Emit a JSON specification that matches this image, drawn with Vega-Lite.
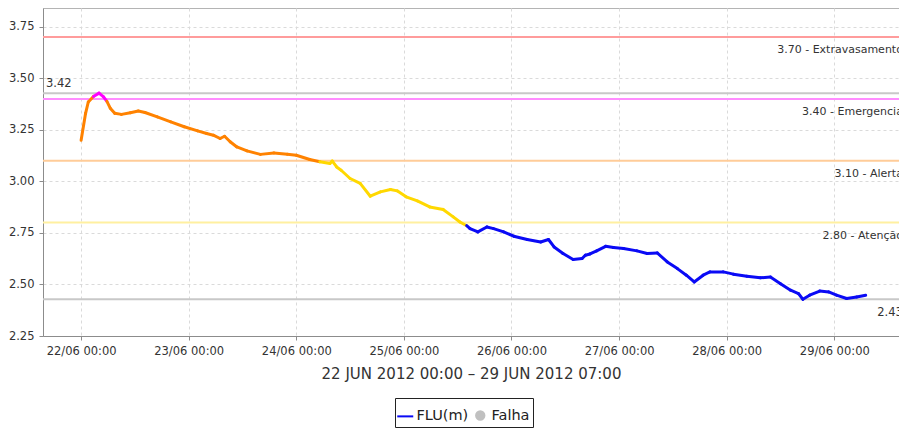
{
  "$schema": "https://vega.github.io/schema/vega-lite/v6.json",
  "autosize": "none",
  "width": 856,
  "height": 328,
  "padding": {"left": 43, "top": 8, "right": 0, "bottom": 92},
  "background": "white",
  "config": {
    "view": {"stroke": "#b4b4b4", "strokeWidth": 1},
    "font": "DejaVu Sans",
    "axis": {
      "labelFont": "DejaVu Sans",
      "titleFont": "DejaVu Sans",
      "labelFontSize": 11.5,
      "labelColor": "#333333",
      "titleColor": "#333333",
      "gridColor": "#dadada",
      "gridDash": [3, 3],
      "gridWidth": 1,
      "domainColor": "#8c8c8c",
      "tickColor": "#8c8c8c",
      "tickSize": 4
    },
    "legend": {
      "labelFont": "DejaVu Sans",
      "titleFont": "DejaVu Sans"
    }
  },
  "datasets": {
    "serie": [
      {"t": "2012-06-22T00:00", "v": 3.20},
      {"t": "2012-06-22T01:00", "v": 3.33},
      {"t": "2012-06-22T01:36", "v": 3.385},
      {"t": "2012-06-22T02:45", "v": 3.412},
      {"t": "2012-06-22T04:00", "v": 3.428},
      {"t": "2012-06-22T05:00", "v": 3.41},
      {"t": "2012-06-22T05:45", "v": 3.388},
      {"t": "2012-06-22T06:30", "v": 3.355},
      {"t": "2012-06-22T07:30", "v": 3.33},
      {"t": "2012-06-22T09:00", "v": 3.325},
      {"t": "2012-06-22T11:00", "v": 3.333},
      {"t": "2012-06-22T12:45", "v": 3.341},
      {"t": "2012-06-22T14:15", "v": 3.334},
      {"t": "2012-06-22T17:00", "v": 3.313},
      {"t": "2012-06-22T20:00", "v": 3.289},
      {"t": "2012-06-22T23:00", "v": 3.265},
      {"t": "2012-06-23T02:00", "v": 3.245},
      {"t": "2012-06-23T04:00", "v": 3.232},
      {"t": "2012-06-23T05:30", "v": 3.224},
      {"t": "2012-06-23T07:00", "v": 3.208},
      {"t": "2012-06-23T08:00", "v": 3.219},
      {"t": "2012-06-23T09:15", "v": 3.192},
      {"t": "2012-06-23T10:45", "v": 3.167},
      {"t": "2012-06-23T13:00", "v": 3.148},
      {"t": "2012-06-23T16:00", "v": 3.131},
      {"t": "2012-06-23T19:00", "v": 3.138},
      {"t": "2012-06-23T22:00", "v": 3.132},
      {"t": "2012-06-24T00:00", "v": 3.127},
      {"t": "2012-06-24T03:00", "v": 3.106},
      {"t": "2012-06-24T05:15", "v": 3.095},
      {"t": "2012-06-24T07:30", "v": 3.087},
      {"t": "2012-06-24T08:00", "v": 3.099},
      {"t": "2012-06-24T09:00", "v": 3.07},
      {"t": "2012-06-24T10:00", "v": 3.054},
      {"t": "2012-06-24T12:00", "v": 3.014},
      {"t": "2012-06-24T14:15", "v": 2.99},
      {"t": "2012-06-24T16:30", "v": 2.928},
      {"t": "2012-06-24T18:45", "v": 2.949},
      {"t": "2012-06-24T21:00", "v": 2.961},
      {"t": "2012-06-24T22:30", "v": 2.954},
      {"t": "2012-06-25T00:30", "v": 2.925},
      {"t": "2012-06-25T03:00", "v": 2.905},
      {"t": "2012-06-25T05:45", "v": 2.876},
      {"t": "2012-06-25T08:45", "v": 2.864},
      {"t": "2012-06-25T11:00", "v": 2.828},
      {"t": "2012-06-25T12:30", "v": 2.803},
      {"t": "2012-06-25T14:00", "v": 2.785},
      {"t": "2012-06-25T14:45", "v": 2.771},
      {"t": "2012-06-25T16:30", "v": 2.755},
      {"t": "2012-06-25T18:30", "v": 2.779},
      {"t": "2012-06-25T20:00", "v": 2.771},
      {"t": "2012-06-25T22:15", "v": 2.755},
      {"t": "2012-06-26T00:30", "v": 2.734},
      {"t": "2012-06-26T03:30", "v": 2.718},
      {"t": "2012-06-26T06:30", "v": 2.706},
      {"t": "2012-06-26T08:15", "v": 2.718},
      {"t": "2012-06-26T09:30", "v": 2.682},
      {"t": "2012-06-26T11:30", "v": 2.65},
      {"t": "2012-06-26T13:45", "v": 2.621},
      {"t": "2012-06-26T15:45", "v": 2.626},
      {"t": "2012-06-26T16:30", "v": 2.642},
      {"t": "2012-06-26T17:30", "v": 2.648},
      {"t": "2012-06-26T19:00", "v": 2.663},
      {"t": "2012-06-26T21:00", "v": 2.685},
      {"t": "2012-06-26T22:45", "v": 2.679},
      {"t": "2012-06-27T01:00", "v": 2.674},
      {"t": "2012-06-27T04:00", "v": 2.663},
      {"t": "2012-06-27T06:15", "v": 2.65},
      {"t": "2012-06-27T08:30", "v": 2.653},
      {"t": "2012-06-27T10:45", "v": 2.609},
      {"t": "2012-06-27T13:00", "v": 2.577},
      {"t": "2012-06-27T15:00", "v": 2.545},
      {"t": "2012-06-27T16:45", "v": 2.512},
      {"t": "2012-06-27T18:45", "v": 2.545},
      {"t": "2012-06-27T20:15", "v": 2.561},
      {"t": "2012-06-27T23:15", "v": 2.561},
      {"t": "2012-06-28T01:30", "v": 2.55},
      {"t": "2012-06-28T04:30", "v": 2.54},
      {"t": "2012-06-28T07:30", "v": 2.532},
      {"t": "2012-06-28T09:45", "v": 2.536},
      {"t": "2012-06-28T12:00", "v": 2.504},
      {"t": "2012-06-28T14:15", "v": 2.472},
      {"t": "2012-06-28T16:00", "v": 2.456},
      {"t": "2012-06-28T17:00", "v": 2.428},
      {"t": "2012-06-28T18:30", "v": 2.448},
      {"t": "2012-06-28T20:45", "v": 2.468},
      {"t": "2012-06-28T22:45", "v": 2.464},
      {"t": "2012-06-29T00:30", "v": 2.448},
      {"t": "2012-06-29T02:45", "v": 2.432},
      {"t": "2012-06-29T05:00", "v": 2.439},
      {"t": "2012-06-29T07:00", "v": 2.448}
    ],
    "limiares": [
      {"v": 3.70, "rotulo": "3.70 - Extravasamento"},
      {"v": 3.40, "rotulo": "3.40 - Emergencia"},
      {"v": 3.10, "rotulo": "3.10 - Alerta"},
      {"v": 2.80, "rotulo": "2.80 - Atenção"}
    ],
    "extremos": [
      {"tipo": "max", "v": 3.428, "rotulo": "3.42"},
      {"tipo": "min", "v": 2.428, "rotulo": "2.43"}
    ],
    "legenda": [
      {"s": "FLU(m)"},
      {"s": "Falha"}
    ]
  },
  "layer": [
    {
      "data": {"name": "limiares"},
      "mark": {"type": "rule", "strokeWidth": 2},
      "encoding": {
        "y": {
          "field": "v", "type": "quantitative",
          "scale": {"domain": [2.25, 3.841], "nice": false, "zero": false},
          "axis": {"title": null, "values": [2.25, 2.5, 2.75, 3.0, 3.25, 3.5, 3.75], "format": ".2f", "labelPadding": 5, "labelFontSize": 11.5, "grid": true}
        },
        "color": {
          "field": "rotulo", "type": "nominal",
          "scale": {
            "domain": ["3.70 - Extravasamento", "3.40 - Emergencia", "3.10 - Alerta", "2.80 - Atenção"],
            "range": ["#ff9c9c", "#ff8cff", "#ffcc99", "#fff0a0"]
          },
          "legend": null
        }
      }
    },
    {
      "data": {"name": "extremos"},
      "mark": {"type": "rule", "strokeWidth": 2, "color": "#c8c8c8"},
      "encoding": {
        "y": {"field": "v", "type": "quantitative"}
      }
    },
    {
      "data": {"name": "serie", "format": {"parse": {"t": "date"}}},
      "transform": [
        {"window": [{"op": "lead", "field": "t", "as": "t2"}, {"op": "lead", "field": "v", "as": "v2"}], "sort": [{"field": "t"}]},
        {"filter": "datum.t2 != null"}
      ],
      "mark": {"type": "rule", "strokeWidth": 3, "strokeCap": "round"},
      "encoding": {
        "x": {
          "field": "t", "type": "temporal",
          "scale": {"domain": [
            {"year": 2012, "month": 6, "date": 21, "hours": 15, "minutes": 30},
            {"year": 2012, "month": 6, "date": 29, "hours": 14, "minutes": 26}
          ]},
          "axis": {
            "title": "22 JUN 2012 00:00 – 29 JUN 2012 07:00",
            "titleFontSize": 15,
            "titleFontWeight": "normal",
            "titlePadding": 10,
            "format": "%d/%m %H:%M",
            "labelPadding": 5,
            "labelFlush": false,
            "labelOverlap": false,
            "grid": true,
            "values": [
              {"year": 2012, "month": 6, "date": 22},
              {"year": 2012, "month": 6, "date": 23},
              {"year": 2012, "month": 6, "date": 24},
              {"year": 2012, "month": 6, "date": 25},
              {"year": 2012, "month": 6, "date": 26},
              {"year": 2012, "month": 6, "date": 27},
              {"year": 2012, "month": 6, "date": 28},
              {"year": 2012, "month": 6, "date": 29}
            ]
          }
        },
        "x2": {"field": "t2"},
        "y": {"field": "v", "type": "quantitative"},
        "y2": {"field": "v2"},
        "color": {
          "field": "v", "type": "quantitative",
          "scale": {"type": "threshold", "domain": [2.8, 3.1, 3.4], "range": ["#0a0af5", "#ffd800", "#ff8200", "#ff00ff"]},
          "legend": null
        }
      }
    },
    {
      "data": {"name": "limiares"},
      "mark": {"type": "text", "align": "right", "baseline": "top", "dx": -2, "dy": 7, "fontSize": 11, "color": "#333333", "clip": true},
      "encoding": {
        "x": {"datum": {"year": 2012, "month": 6, "date": 29, "hours": 15, "minutes": 45}, "type": "temporal"},
        "y": {"field": "v", "type": "quantitative"},
        "text": {"field": "rotulo"}
      }
    },
    {
      "data": {"name": "extremos"},
      "transform": [{"filter": "datum.tipo == 'min'"}],
      "mark": {"type": "text", "align": "right", "baseline": "top", "dx": -2, "dy": 8, "fontSize": 11.5, "color": "#333333", "clip": true},
      "encoding": {
        "x": {"datum": {"year": 2012, "month": 6, "date": 29, "hours": 15, "minutes": 45}, "type": "temporal"},
        "y": {"field": "v", "type": "quantitative"},
        "text": {"field": "rotulo"}
      }
    },
    {
      "data": {"name": "extremos"},
      "transform": [{"filter": "datum.tipo == 'max'"}],
      "mark": {"type": "text", "align": "left", "baseline": "bottom", "dx": 3, "dy": -4, "fontSize": 11.5, "color": "#333333", "clip": true},
      "encoding": {
        "x": {"datum": {"year": 2012, "month": 6, "date": 21, "hours": 15, "minutes": 30}, "type": "temporal"},
        "y": {"field": "v", "type": "quantitative"},
        "text": {"field": "rotulo"}
      }
    },
    {
      "data": {"name": "legenda"},
      "mark": {"type": "point", "opacity": 0, "filled": true},
      "encoding": {
        "color": {
          "field": "s", "type": "nominal",
          "scale": {"domain": ["FLU(m)", "Falha"], "range": ["#0a0af5", "#c0c0c0"]},
          "legend": {
            "orient": "none",
            "legendX": 352,
            "legendY": 390,
            "direction": "horizontal",
            "title": " ",
            "titleFontSize": 6,
            "titlePadding": 1,
            "padding": 3,
            "strokeColor": "#222222",
            "fillColor": "white",
            "labelFontSize": 14.5,
            "labelColor": "#222222",
            "labelOffset": 4,
            "columnPadding": 3,
            "symbolSize": 256,
            "symbolOpacity": 1,
            "symbolStrokeWidth": 2,
            "encode": {
              "symbols": {
                "update": {
                  "shape": {"signal": "datum.value === 'FLU(m)' ? 'stroke' : 'circle'"},
                  "size": {"signal": "datum.value === 'FLU(m)' ? 256 : 70"},
                  "stroke": {"signal": "datum.value === 'FLU(m)' ? '#0a0af5' : '#c0c0c0'"},
                  "fill": {"signal": "datum.value === 'FLU(m)' ? 'transparent' : '#c0c0c0'"},
                  "strokeWidth": {"value": 2},
                  "opacity": {"value": 1},
                  "fillOpacity": {"value": 1},
                  "strokeOpacity": {"value": 1}
                }
              }
            }
          }
        }
      }
    }
  ],
  "resolve": {"scale": {"color": "independent"}, "legend": {"color": "independent"}}
}
